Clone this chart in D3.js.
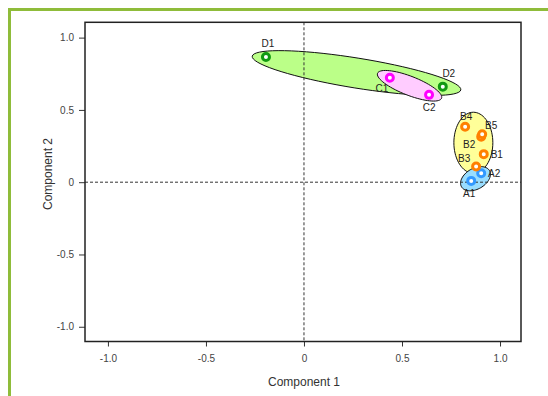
<!DOCTYPE html>
<html>
<head>
<meta charset="utf-8">
<script src="https://cdn.jsdelivr.net/npm/d3@7"></script>
<style>
  body { margin: 0; background: #fff; }
  svg { display: block; font-family: "Liberation Sans", Arial, sans-serif; }
  .tick text { fill: #444; font-size: 10px; }
  .tick line { stroke: #333; }
</style>
</head>
<body>
<svg id="chart" width="548" height="396"></svg>
<script>
// sample scores on the first two components
const samples = ['A1', 'A2', 'B1', 'B2', 'B3', 'B4', 'B5', 'C1', 'C2', 'D1', 'D2'];
const comp1 = [0.853, 0.904, 0.917, 0.904, 0.878, 0.822, 0.909, 0.438, 0.638, -0.194, 0.708];
const comp2 = [0.009, 0.062, 0.194, 0.315, 0.108, 0.384, 0.332, 0.723, 0.604, 0.866, 0.661];
const groupOf = ['A', 'A', 'B', 'B', 'B', 'B', 'B', 'C', 'C', 'D', 'D'];

// group ellipses in data units: centre plus two conjugate semi-axes
const groups = ['D', 'C', 'B', 'A'];
const ellCenterX = [0.268, 0.5385, 0.864, 0.875];
const ellCenterY = [0.755, 0.667, 0.273, 0.0239];
const ellAxis1 = [[0.532, -0.1165], [0.1632, -0.0864], [0, 0.2109], [0.0715, 0.056]];
const ellAxis2 = [[0.0122, 0.1023], [0.0176, 0.0612], [0.0994, 0], [0.0265, -0.0622]];

const tickValues = [-1, -0.5, 0, 0.5, 1];

const pointColor = { A: '#3399ff', B: '#ff8000', C: '#ff00ff', D: '#119911' };
const fillColor = { A: '#99ddff', B: '#ffff99', C: '#ffccff', D: '#bbff88' };

// label nudges in px (dx, dy) from each point
const labelNudge = {
  A1: [-2, 13], A2: [13, 0], B1: [13, 0], B2: [-12, 8], B3: [-12, -8],
  B4: [1, -10], B5: [9, -9], C1: [-8, 11], C2: [0, 13], D1: [2, -13], D2: [6, -13]
};

const svg = d3.select('#chart');
const x = d3.scaleLinear().domain([-1.117, 1.107]).range([85, 521]);
const y = d3.scaleLinear().domain([-1.102, 1.106]).range([341.5, 22.3]);

// outer green border
svg.append('rect')
  .attr('x', 9.5).attr('y', 9.5)
  .attr('width', 560).attr('height', 420)
  .attr('fill', 'none')
  .attr('stroke', '#8fbc3a')
  .attr('stroke-width', 3);

// plain hyphen for negatives, bare 0 at the origin
const fmt = d => d === 0 ? '0' : d3.format('.1f')(d).replace('\u2212', '-');

svg.append('g')
  .attr('transform', `translate(0,${y.range()[0]})`)
  .call(d3.axisBottom(x).tickValues(tickValues).tickFormat(fmt).tickSize(5).tickPadding(8))
  .call(g => g.select('.domain').remove());

svg.append('g')
  .attr('transform', `translate(${x.range()[0]},0)`)
  .call(d3.axisLeft(y).tickValues(tickValues).tickFormat(fmt).tickSize(6).tickPadding(5))
  .call(g => g.select('.domain').remove());

// ellipses
const line = d3.line().curve(d3.curveLinearClosed);
const ellipses = groups.map((g, i) => {
  const pts = d3.range(0, 72).map(k => {
    const t = k / 72 * 2 * Math.PI;
    const dx = ellAxis1[i][0] * Math.cos(t) + ellAxis2[i][0] * Math.sin(t);
    const dy = ellAxis1[i][1] * Math.cos(t) + ellAxis2[i][1] * Math.sin(t);
    return [x(ellCenterX[i] + dx), y(ellCenterY[i] + dy)];
  });
  return { g, pts };
});

svg.append('g')
  .selectAll('path')
  .data(ellipses)
  .join('path')
  .attr('d', d => line(d.pts))
  .attr('fill', d => fillColor[d.g])
  .attr('stroke', '#111')
  .attr('stroke-width', 1);

// zero reference lines
const ref = svg.append('g')
  .attr('stroke', '#333')
  .attr('stroke-width', 1)
  .attr('stroke-dasharray', '3,2');
ref.append('line')
  .attr('x1', x(0)).attr('x2', x(0))
  .attr('y1', y.range()[1]).attr('y2', y.range()[0]);
ref.append('line')
  .attr('x1', x.range()[0]).attr('x2', x.range()[1])
  .attr('y1', y(0)).attr('y2', y(0));

// frame
svg.append('rect')
  .attr('x', x.range()[0]).attr('y', y.range()[1])
  .attr('width', x.range()[1] - x.range()[0])
  .attr('height', y.range()[0] - y.range()[1])
  .attr('fill', 'none')
  .attr('stroke', '#222')
  .attr('stroke-width', 1.5);

// points
svg.append('g')
  .selectAll('circle')
  .data(samples)
  .join('circle')
  .attr('cx', (d, i) => x(comp1[i]))
  .attr('cy', (d, i) => y(comp2[i]))
  .attr('r', 3.5)
  .attr('fill', '#fff')
  .attr('stroke', (d, i) => pointColor[groupOf[i]])
  .attr('stroke-width', 3);

svg.append('g')
  .selectAll('text')
  .data(samples)
  .join('text')
  .attr('x', (d, i) => x(comp1[i]) + labelNudge[d][0])
  .attr('y', (d, i) => y(comp2[i]) + labelNudge[d][1])
  .attr('dy', '0.35em')
  .attr('text-anchor', 'middle')
  .attr('font-size', 10)
  .attr('fill', '#222')
  .text(d => d);

// axis titles
svg.append('text')
  .attr('x', 304).attr('y', 382)
  .attr('dy', '0.35em')
  .attr('text-anchor', 'middle')
  .attr('font-size', 12)
  .attr('fill', '#333')
  .text('Component 1');

svg.append('text')
  .attr('transform', 'translate(47.5,174) rotate(-90)')
  .attr('dy', '0.35em')
  .attr('text-anchor', 'middle')
  .attr('font-size', 12)
  .attr('fill', '#333')
  .text('Component 2');
</script>
</body>
</html>
